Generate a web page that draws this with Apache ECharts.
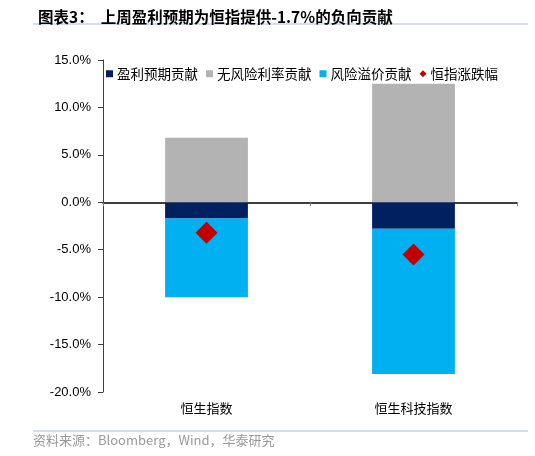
<!DOCTYPE html>
<html><head><meta charset="utf-8">
<script src="https://cdn.jsdelivr.net/npm/echarts@6/dist/echarts.min.js"></script>
<style>html,body{margin:0;padding:0;background:#fff}#c{width:535px;height:456px}</style>
</head><body><div id="c"></div>
<script>
const categories = ['恒生指数', '恒生科技指数'];
const earnings = [-1.7, -2.8];
const riskFree = [6.8, 12.5];
const riskPremium = [-8.3, -15.3];
const indexChange = [-3.2, -5.5];
const yTicks = { min: -20, max: 15, interval: 5 };

const chart = echarts.init(document.getElementById('c'));
const cjk = '"Noto Sans CJK SC", sans-serif';
chart.setOption({
  animation: false,
  backgroundColor: '#fff',
  title: {
    text: '图表3：  上周盈利预期为恒指提供-1.7%的负向贡献',
    left: 33, top: 4,
    textStyle: { fontSize: 15.5, fontWeight: 'bold', color: '#000', fontFamily: cjk }
  },
  graphic: [
    { type: 'line', shape: { x1: 33, y1: 24, x2: 528, y2: 24 }, style: { stroke: '#a9bed6', lineWidth: 1 } },
    { type: 'line', shape: { x1: 33, y1: 431, x2: 528, y2: 431 }, style: { stroke: '#a9bed6', lineWidth: 1 } },
    { type: 'text', left: 33, top: 434, style: { text: '资料来源：Bloomberg，Wind，华泰研究', fill: '#999999', fontSize: 13, fontFamily: cjk } }
  ],
  legend: {
    left: 101, top: 62,
    itemWidth: 7, itemHeight: 7, itemGap: 8,
    textStyle: { fontSize: 13.5, color: '#000', fontFamily: cjk, padding: [0, 0, 0, -1] },
    data: [
      { name: '盈利预期贡献', icon: 'rect' },
      { name: '无风险利率贡献', icon: 'rect' },
      { name: '风险溢价贡献', icon: 'rect' },
      { name: '恒指涨跌幅', icon: 'diamond' }
    ]
  },
  grid: { left: 103, right: 18, top: 60, bottom: 64 },
  xAxis: [
    {
      type: 'category', data: categories,
      axisLine: { show: false, onZero: false }, axisTick: { show: false },
      axisLabel: { fontSize: 13, color: '#000', fontFamily: cjk, margin: 10 }
    },
    {
      type: 'category', data: categories, position: 'bottom',
      axisLine: { show: true, onZero: true, lineStyle: { color: '#000', width: 1.5 } },
      axisTick: { show: true, length: 4, inside: false, lineStyle: { color: '#808080' } },
      axisLabel: { show: false }
    }
  ],
  yAxis: {
    type: 'value', min: yTicks.min, max: yTicks.max, interval: yTicks.interval,
    axisLine: { show: true, lineStyle: { color: '#404040', width: 1 } },
    axisTick: { show: true, length: 5, lineStyle: { color: '#404040' } },
    splitLine: { show: false },
    axisLabel: { formatter: v => v.toFixed(1) + '%', fontSize: 13, color: '#000', fontFamily: 'Liberation Sans, Arial, sans-serif', margin: 12 }
  },
  series: [
    { name: '盈利预期贡献', type: 'bar', stack: 'a', data: earnings, barWidth: '40%', itemStyle: { color: '#002060' } },
    { name: '无风险利率贡献', type: 'bar', stack: 'a', data: riskFree, itemStyle: { color: '#b3b3b3' } },
    { name: '风险溢价贡献', type: 'bar', stack: 'a', data: riskPremium, itemStyle: { color: '#00b0f0' } },
    { name: '恒指涨跌幅', type: 'scatter', data: indexChange, symbol: 'diamond', symbolSize: 22, itemStyle: { color: '#c00000', opacity: 1 }, z: 5 }
  ]
});
</script></body></html>
